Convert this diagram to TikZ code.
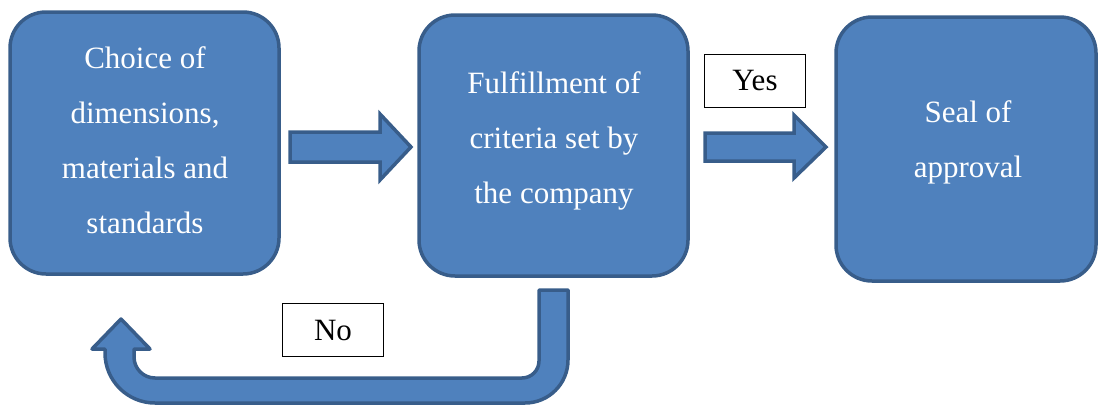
\documentclass[tikz,border=0pt]{standalone}
\usepackage{fontspec}
\setmainfont{Liberation Serif}
\definecolor{boxfill}{RGB}{79,129,189}
\definecolor{boxline}{RGB}{56,93,138}
\begin{document}
\begin{tikzpicture}[x=1pt,y=-1pt,
  box/.style={draw=boxline,fill=boxfill,line width=3.5pt,rounded corners=36pt,inner sep=0pt},
  txt/.style={text=white,align=center,font=\fontsize{31}{55}\selectfont,inner sep=0pt},
  lab/.style={draw=black,fill=white,line width=0.8pt,inner sep=0pt,minimum width=101pt,minimum height=53pt,font=\fontsize{31}{36}\selectfont},
  blk/.style={draw=boxline,fill=boxfill,line width=3.5pt,line join=miter}]
\useasboundingbox (0,0) rectangle (1099,407);
% boxes
\node[box,minimum width=269pt,minimum height=262pt] (b1) at (144.5,143) {};
\node[box,minimum width=269pt,minimum height=261pt] (b2) at (553.5,145.5) {};
\node[box,minimum width=260pt,minimum height=264pt] (b3) at (966,149) {};
\node[txt] (t1) at (145,140) {Choice of\\dimensions,\\materials and\\standards};
\node[txt] (t2) at (554,140.5) {Fulfillment of\\criteria set by\\the company};
\node[txt] (t3) at (968,142.5) {Seal of\\approval};
% block arrows
\draw[blk] (290,132) -- (380,132) -- (380,114) -- (411,147) -- (380,180) -- (380,162) -- (290,162) -- cycle;
\draw[blk] (705,133) -- (794,133) -- (794,115) -- (826,147) -- (794,178) -- (794,161) -- (705,161) -- cycle;
% labels
\node[lab] (yes) at (755,80.5) {Yes};
\node[lab] (no) at (333,330) {No};
% U-turn arrow
\draw[blk,line join=round] (568,290) -- (568,360) arc[start angle=0,end angle=90,radius=43]
  -- (155,403) arc[start angle=90,end angle=180,radius=50]
  -- (105,349) -- (92,349) -- (121,319) -- (150,349) -- (134,349) -- (134,357)
  arc[start angle=180,end angle=90,radius=21] -- (522,378)
  arc[start angle=90,end angle=0,radius=17] -- (539,290) -- cycle;
\end{tikzpicture}
\end{document}
